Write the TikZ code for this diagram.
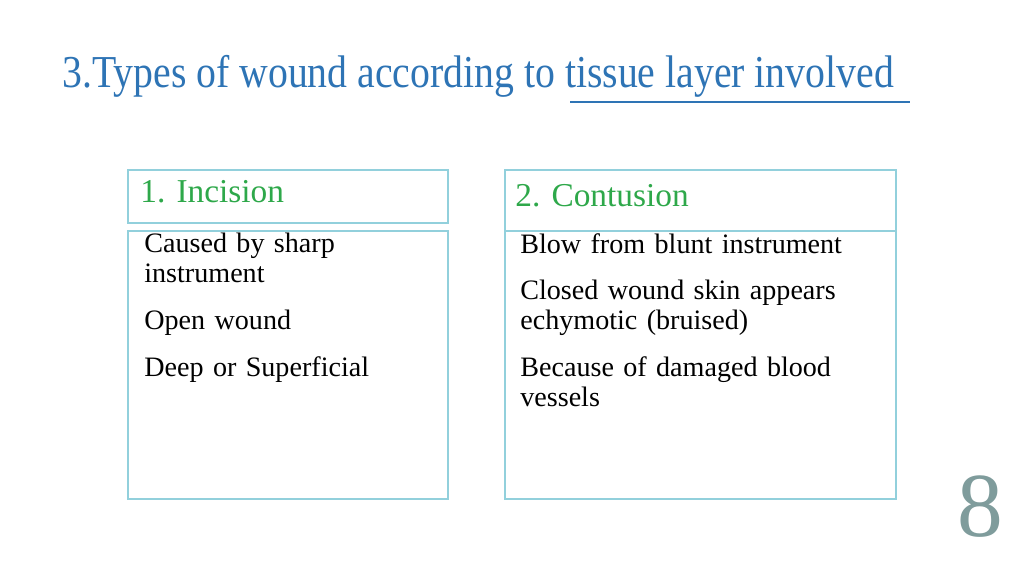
\documentclass[tikz,border=0pt]{standalone}
\usepackage{fontspec}
\setmainfont{Liberation Serif}
\usetikzlibrary{positioning}
\definecolor{titleblue}{HTML}{2E74B5}
\definecolor{boxline}{HTML}{92D0DC}
\definecolor{headgreen}{HTML}{2EA84A}
\definecolor{numgray}{HTML}{7F9C9C}
\begin{document}
\begin{tikzpicture}[x=0.02cm,y=-0.02cm,
  box/.style={draw=boxline,line width=0.6pt},
  head/.style={anchor=west,text=headgreen,font=\fontsize{19}{22}\selectfont,inner sep=0pt},
  body/.style={anchor=north west,align=left,text width=6.6cm,inner sep=0pt,font=\fontsize{16}{17}\selectfont}]
\useasboundingbox (0,0) rectangle (1024,576);
% title
\node[anchor=base west,inner sep=0pt,text=titleblue,font=\fontsize{26}{28}\selectfont] (title) at (62,87)
  {\scalebox{0.87}[1]{3.Types of wound according to tissue layer involved}};
\draw[titleblue,line width=1pt] (570,102) -- (910,102);
% boxes
\draw[box] (128,170) rectangle (448,223);
\draw[box] (128,231) rectangle (448,499);
\draw[box] (505,170) rectangle (896,231);
\draw[box] (505,231) rectangle (896,499);
\node[head] (inc) at (140,192) {1. Incision};
\node[head] (con) at (515,196) {2. Contusion};
\node[body] (incbody) at (144,233) {Caused by sharp\\instrument\\[1.3ex]Open wound\\[1.3ex]Deep or Superficial};
\node[body,text width=7.5cm] (conbody) at (520,233) {Blow from blunt instrument\\[1.3ex]Closed wound skin appears\\echymotic (bruised)\\[1.3ex]Because of damaged blood\\vessels};
\node[text=numgray,font=\fontsize{52}{52}\selectfont,inner sep=0pt] (num) at (980,507) {8};
\end{tikzpicture}
\end{document}
